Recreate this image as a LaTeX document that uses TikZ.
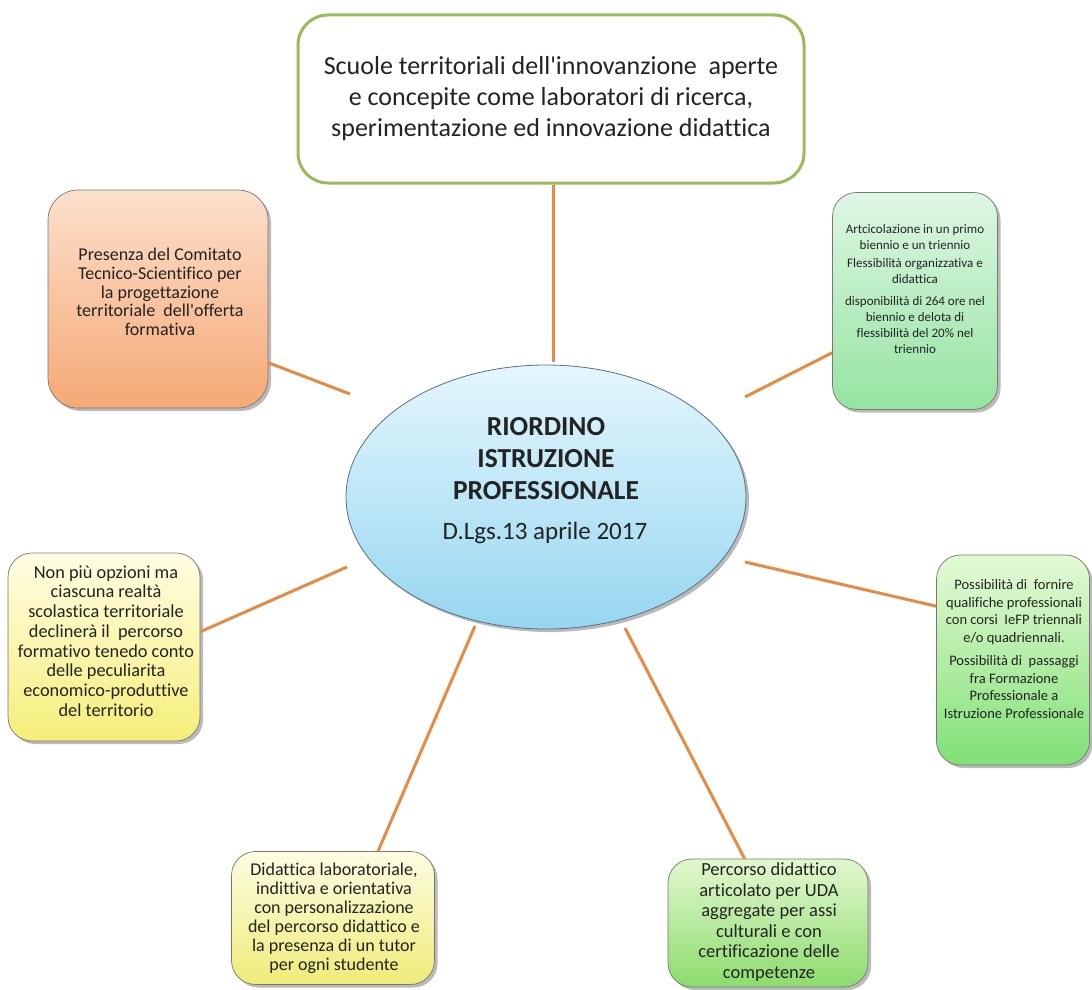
\documentclass[tikz,border=0pt]{standalone}
\usepackage{fontspec}
\setmainfont{Carlito}[Ligatures={TeXOff,NoCommon}]
\usetikzlibrary{shapes.geometric,shadows}
\definecolor{lineor}{RGB}{228,140,70}
\definecolor{topbd}{RGB}{155,187,89}
\definecolor{txt}{RGB}{35,35,35}
\definecolor{boxbd}{RGB}{120,120,110}
\tikzset{
  conn/.style={draw=lineor, line width=3pt},
  shadowed/.style={drop shadow={shadow xshift=3pt, shadow yshift=-3pt, opacity=0.45, fill=black!60}},
  infobox/.style={rectangle, rounded corners=24pt, draw=boxbd, line width=0.7pt, inner sep=0pt, shadowed},
  boxtext/.style={align=center, text=txt, inner sep=0pt},
}
\begin{document}
\begin{tikzpicture}[x=1pt,y=-1pt]
\useasboundingbox (0,0) rectangle (1092,990);
\fill[white] (0,0) rectangle (1092,990);

% top box
\node[rectangle, rounded corners=30pt, draw=topbd, line width=3pt, fill=white, inner sep=0pt,
      minimum width=506pt, minimum height=168pt] (top) at (551,99) {};
\node[boxtext, font=\fontsize{26}{31}\selectfont] (toptext) at (551,99)
  {Scuole territoriali dell'innovanzione\ \ aperte\\ e concepite come laboratori di ricerca,\\ sperimentazione ed innovazione didattica};

% central ellipse
\node[ellipse, draw={rgb,255:red,90;green,110;blue,130}, line width=0.8pt,
      top color={rgb,255:red,228;green,246;blue,252}, bottom color={rgb,255:red,150;green,214;blue,240},
      minimum width=400pt, minimum height=264pt, inner sep=0pt, shadowed] (c) at (546,497) {};
\node[boxtext, font=\fontsize{27.5}{32}\selectfont\bfseries] (ctitle) at (546,459)
  {RIORDINO\\ISTRUZIONE\\PROFESSIONALE};
\node[boxtext, font=\fontsize{25}{30}\selectfont] (cdate) at (545,533) {D.Lgs.13 aprile 2017};

% top-left orange
\node[infobox, rounded corners=30pt, top color={rgb,255:red,252;green,224;blue,204}, bottom color={rgb,255:red,245;green,168;blue,118},
      minimum width=220pt, minimum height=218pt] (tl) at (158,299) {};
\node[boxtext, font=\fontsize{18}{18.7}\selectfont] (tltext) at (160,292)
  {Presenza del Comitato\\ Tecnico-Scientifico per\\ la progettazione\\ territoriale\ \ dell'offerta\\ formativa};

% top-right green
\node[infobox, top color={rgb,255:red,222;green,246;blue,228}, bottom color={rgb,255:red,148;green,228;blue,160},
      minimum width=165pt, minimum height=217pt] (tr) at (915,301) {};
\node[boxtext, font=\fontsize{13}{16}\selectfont] (trtext) at (915,289)
  {Artcicolazione in un primo\\ biennio e un triennio\\[2pt]
   Flessibilità organizzativa e\\ didattica\\[6pt]
   disponibilità di 264 ore nel\\ biennio e delota di\\ flessibilità del 20\% nel\\ triennio};

% left-middle yellow
\node[infobox, top color={rgb,255:red,255;green,253;blue,226}, bottom color={rgb,255:red,245;green,238;blue,122},
      minimum width=192pt, minimum height=188pt] (lm) at (104,647) {};
\node[boxtext, font=\fontsize{18.3}{19.7}\selectfont] (lmtext) at (106,641)
  {Non più opzioni ma\\ ciascuna realtà\\ scolastica territoriale\\ declinerà il\ \ percorso\\ formativo tenedo conto\\ delle peculiarita\\ economico-produttive\\ del territorio};

% right-middle green
\node[infobox, top color={rgb,255:red,228;green,250;blue,214}, bottom color={rgb,255:red,128;green,224;blue,118},
      minimum width=153pt, minimum height=210pt] (rm) at (1013,660) {};
\node[boxtext, font=\fontsize{14.5}{17.7}\selectfont] (rmtext) at (1014,649)
  {Possibilità di\ \ fornire\\ qualifiche professionali\\ con corsi\ \ IeFP triennali\\ e/o quadriennali.\\[5pt]
   Possibilità di\ \ passaggi\\ fra Formazione\\ Professionale a\\ Istruzione Professionale};

% bottom-left yellow
\node[infobox, top color={rgb,255:red,253;green,252;blue,226}, bottom color={rgb,255:red,238;green,236;blue,120},
      minimum width=203pt, minimum height=133pt] (bl) at (333,918) {};
\node[boxtext, font=\fontsize{18}{19}\selectfont] (bltext) at (334,918)
  {Didattica laboratoriale,\\ indittiva e orientativa\\ con personalizzazione\\ del percorso didattico e\\ la presenza di un tutor\\ per ogni studente};

% bottom-right green
\node[infobox, top color={rgb,255:red,226;green,247;blue,206}, bottom color={rgb,255:red,140;green,220;blue,110},
      minimum width=200pt, minimum height=128pt] (br) at (768,923) {};
\node[boxtext, font=\fontsize{18.5}{20.6}\selectfont] (brtext) at (769,922)
  {Percorso didattico\\ articolato per UDA\\ aggregate per assi\\ culturali e con\\ certificazione delle\\ competenze};

% connector free ends near the ellipse
\coordinate (e1) at (553,362);
\coordinate (e2) at (350,394);
\coordinate (e3) at (745,397);
\coordinate (e4) at (347,567);
\coordinate (e5) at (745,562);
\coordinate (e6) at (475,626);
\coordinate (e7) at (625,628);

\draw[conn] (top.south) ++(2,0) coordinate (t1) -- (e1);
\draw[conn] (e2) -- (tl.-30);
\draw[conn] (e3) -- (tr.212);
\draw[conn] (e4) -- (lm.9);
\draw[conn] (e5) -- (rm.145);
\draw[conn] (e6) -- (bl.56);
\draw[conn] (e7) -- (br.110);
\end{tikzpicture}
\end{document}
